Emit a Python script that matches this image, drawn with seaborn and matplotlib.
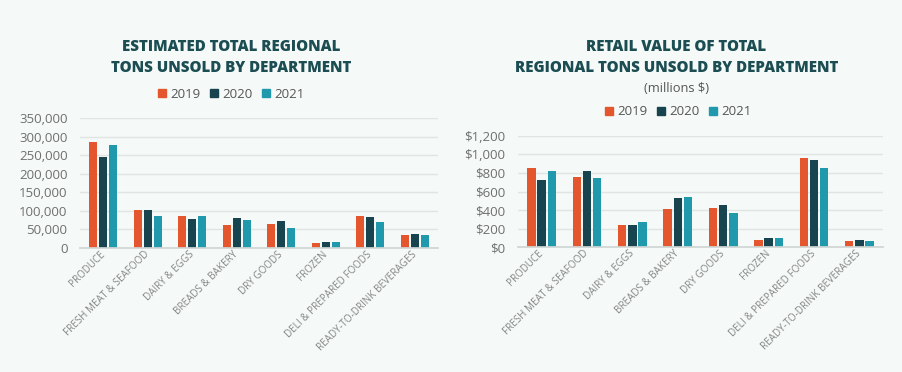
import numpy as np
import pandas as pd
import seaborn as sns
import matplotlib.pyplot as plt
from matplotlib.ticker import FuncFormatter

##----------- Data --------------##
departments = ["PRODUCE", "FRESH MEAT & SEAFOOD", "DAIRY & EGGS", "BREADS & BAKERY",
               "DRY GOODS", "FROZEN", "DELI & PREPARED FOODS", "READY-TO-DRINK BEVERAGES"]
years = ["2019", "2020", "2021"]

tons_2019 = [286000, 102800, 85700, 62200, 65800, 14400, 85700, 36100]
tons_2020 = [244400, 102800, 77600, 80300, 72200, 17100, 83000, 38800]
tons_2021 = [277800, 85700, 87500, 75800, 55000, 17100, 71300, 34300]

value_2019 = [856, 759, 244, 412, 419, 79, 960, 72]
value_2020 = [724, 824, 236, 534, 451, 104, 935, 75]
value_2021 = [824, 749, 272, 541, 369, 104, 856, 72]

##----------- Style --------------##
bg = "#f5faf8"
title_color = "#1b4d52"
palette = ["#e4572e", "#17444f", "#2199ad"]
grid_color = "#dfe5e3"
tick_color = "#6f6f6f"

sns.set_theme(style="white")
plt.rcParams['font.family'] = ['Open Sans', 'DejaVu Sans']


def long_frame(a, b, c):
    rows = []
    for yr, vals in zip(years, [a, b, c]):
        for d, v in zip(departments, vals):
            rows.append({"Department": d, "Year": yr, "Value": v})
    return pd.DataFrame(rows)


def draw(ax, data, ymax, step, fmt):
    sns.barplot(data=data, x="Department", y="Value", hue="Year", palette=palette,
                width=0.675, gap=0.18, ax=ax, legend=False, saturation=1,
                linewidth=0)
    ax.set_facecolor(bg)
    ax.set_ylim(0, ymax)
    ax.set_xlim(-0.52, len(departments) - 0.48)
    ax.set_yticks(np.arange(0, ymax + 1, step))
    ax.yaxis.set_major_formatter(FuncFormatter(fmt))
    ax.grid(axis="y", color=grid_color, linewidth=1)
    ax.set_axisbelow(True)
    for s in ["top", "right", "left"]:
        ax.spines[s].set_visible(False)
    ax.spines["bottom"].set_color("#cfd6d4")
    ax.set_xlabel("")
    ax.set_ylabel("")
    ax.tick_params(axis="y", length=0, pad=9, labelsize=9.5, labelcolor=tick_color)
    ax.tick_params(axis="x", length=0, pad=3.5, labelsize=7.1, labelcolor="#858585")
    ax.set_xticks(range(len(departments)))
    ax.set_xticklabels(departments, rotation=45, ha="right", va="center",
                       rotation_mode="anchor")


fig = plt.figure(figsize=(9.03, 3.72), dpi=100, facecolor=bg)
ax1 = fig.add_axes([0.0886, 0.3333, 0.3965, 0.3495])
ax2 = fig.add_axes([0.5736, 0.3352, 0.4042, 0.3000])

draw(ax1, long_frame(tons_2019, tons_2020, tons_2021), 350000, 50000,
     lambda v, p: f"{v:,.0f}")
draw(ax2, long_frame(value_2019, value_2020, value_2021), 1200, 200,
     lambda v, p: f"${v:,.0f}")

fig.text(0.256, 0.845, "ESTIMATED TOTAL REGIONAL\nTONS UNSOLD BY DEPARTMENT",
         ha="center", va="center", fontsize=10.9, fontweight="heavy",
         color=title_color, linespacing=1.4)
fig.text(0.749, 0.845, "RETAIL VALUE OF TOTAL\nREGIONAL TONS UNSOLD BY DEPARTMENT",
         ha="center", va="center", fontsize=10.9, fontweight="heavy",
         color=title_color, linespacing=1.4)
fig.text(0.749, 0.763, "(millions $)", ha="center", va="center", fontsize=9.3,
         color="#555555")

handles = [plt.Rectangle((0, 0), 1, 1, color=c) for c in palette]
for x, y in [(0.256, 0.747), (0.751, 0.699)]:
    fig.legend(handles, years, loc="center", bbox_to_anchor=(x, y), ncol=3,
               frameon=False, fontsize=9.5, handlelength=0.6, handleheight=0.6,
               handletextpad=0.3, columnspacing=0.75, labelcolor="#555555",
               borderaxespad=0, borderpad=0)

fig.savefig("out.png", dpi=100, facecolor=bg)
